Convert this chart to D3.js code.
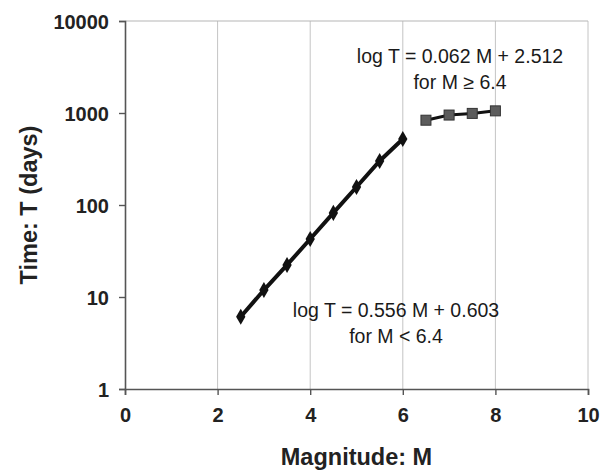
<!DOCTYPE html>
<html>
<head>
<meta charset="utf-8">
<script src="https://cdn.jsdelivr.net/npm/d3@7"></script>
<style>
  body { margin: 0; background: #fff; }
  svg { font-family: Arial, "Liberation Sans", sans-serif; }
</style>
</head>
<body>
<div id="chart"></div>
<script>
// values
var lowM = [2.5, 3.0, 3.5, 4.0, 4.5, 5.0, 5.5, 6.0],
    lowT = [6.1, 11.9, 22.3, 42.7, 82, 157, 301, 522];
var highM = [6.5, 7.0, 7.5, 8.0],
    highT = [835, 950, 990, 1055];
var xTicks = [0, 2, 4, 6, 8, 10],
    yTicks = [1, 10, 100, 1000, 10000];
var upperNote = ['log T = 0.062 M + 2.512', 'for M \u2265 6.4'],
    lowerNote = ['log T = 0.556 M + 0.603', 'for M < 6.4'];

var width = 600, height = 473,
    margin = { top: 21, right: 12, bottom: 84, left: 125 };

var svg = d3.select('#chart')
            .append('svg')
              .attr('width', width)
              .attr('height', height);

var x = d3.scaleLinear().domain([0, 10]).range([margin.left, width - margin.right]);
var y = d3.scaleLog().domain([1, 10000]).range([height - margin.bottom, margin.top]);

// gridlines
svg.append('g')
   .selectAll('line')
   .data(xTicks.slice(1))
   .enter()
   .append('line')
     .attr('x1', function(d) { return x(d); })
     .attr('x2', function(d) { return x(d); })
     .attr('y1', y(1))
     .attr('y2', y(10000))
     .attr('stroke', '#c4c4c4')
     .attr('stroke-width', 1);
svg.append('line')
   .attr('x1', x(0)).attr('x2', x(10))
   .attr('y1', y(10000)).attr('y2', y(10000))
   .attr('stroke', '#b5b5b5');

// axes
var xAxis = svg.append('g')
   .attr('transform', 'translate(0,' + y(1) + ')')
   .call(d3.axisBottom(x).tickValues(xTicks).tickSize(6).tickPadding(13).tickFormat(d3.format('d')));
var yAxis = svg.append('g')
   .attr('transform', 'translate(' + x(0) + ',0)')
   .call(d3.axisLeft(y).tickValues(yTicks).tickSize(6).tickPadding(10).tickFormat(d3.format('d')));

[xAxis, yAxis].forEach(function(ax) {
  ax.select('.domain').attr('stroke', '#555').attr('stroke-width', 1.6);
  ax.selectAll('.tick line').attr('stroke', '#555').attr('stroke-width', 1.4);
  ax.selectAll('.tick text')
    .attr('fill', '#222')
    .style('font-size', '20px')
    .style('font-weight', 'bold')
    .style('font-family', 'Arial, "Liberation Sans", sans-serif');
});
yAxis.selectAll('.tick text').attr('dy', '0.36em');

// series
var line = d3.line()
             .x(function(d) { return x(d[0]); })
             .y(function(d) { return y(d[1]); });

var low = d3.zip(lowM, lowT),
    high = d3.zip(highM, highT);

svg.append('path')
   .datum(low)
   .attr('d', line)
   .attr('fill', 'none')
   .attr('stroke', '#111')
   .attr('stroke-width', 4);
svg.append('g')
   .selectAll('path')
   .data(low)
   .enter()
   .append('path')
     .attr('d', d3.symbol().type(d3.symbolDiamond).size(75))
     .attr('transform', function(d) { return 'translate(' + x(d[0]) + ',' + y(d[1]) + ')'; })
     .attr('fill', '#111');

svg.append('path')
   .datum(high)
   .attr('d', line)
   .attr('fill', 'none')
   .attr('stroke', '#111')
   .attr('stroke-width', 3);
svg.append('g')
   .selectAll('rect')
   .data(high)
   .enter()
   .append('rect')
     .attr('x', function(d) { return x(d[0]) - 5; })
     .attr('y', function(d) { return y(d[1]) - 5; })
     .attr('width', 10)
     .attr('height', 10)
     .attr('fill', '#5c5c5c')
     .attr('stroke', '#333')
     .attr('stroke-width', 1);

// equations
function note(lines, cx, baseY) {
  svg.append('g')
     .selectAll('text')
     .data(lines)
     .enter()
     .append('text')
       .attr('x', cx)
       .attr('y', function(d, i) { return baseY + i * 26; })
       .attr('text-anchor', 'middle')
       .style('font-size', '19.5px')
       .attr('fill', '#1a1a1a')
       .text(function(d) { return d; });
}
note(upperNote, 460, 63);
note(lowerNote, 396, 317);

// axis titles
svg.append('text')
   .attr('x', (x(0) + x(10)) / 2)
   .attr('y', 465)
   .attr('text-anchor', 'middle')
   .style('font-size', '23.5px')
   .style('font-weight', 'bold')
   .attr('fill', '#222')
   .text('Magnitude: M');
svg.append('text')
   .attr('transform', 'translate(37,' + (y(1) + y(10000)) / 2 + ') rotate(-90)')
   .attr('text-anchor', 'middle')
   .style('font-size', '23.5px')
   .style('font-weight', 'bold')
   .attr('fill', '#222')
   .text('Time: T (days)');
</script>
</body>
</html>
